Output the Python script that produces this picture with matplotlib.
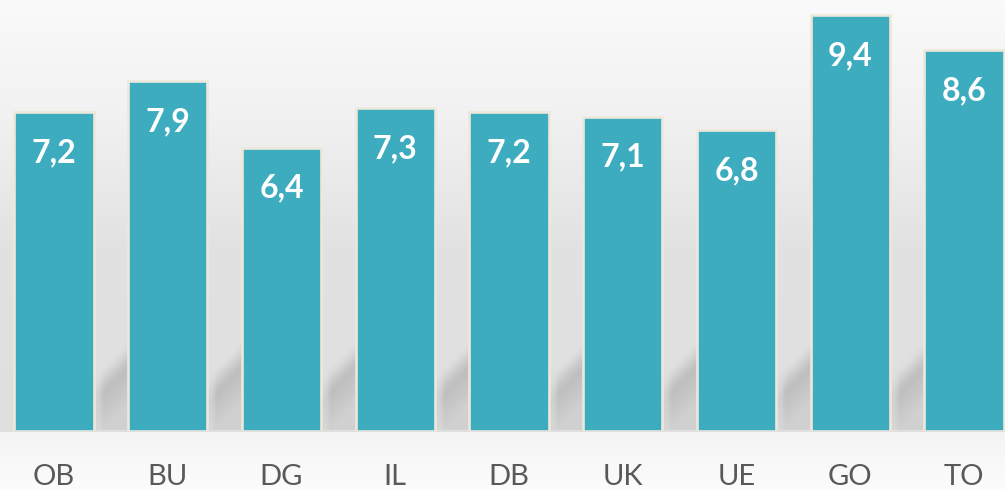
import numpy as np
import matplotlib
matplotlib.use('Agg')
import matplotlib.pyplot as plt

categories = ['OB', 'BU', 'DG', 'IL', 'DB', 'UK', 'UE', 'GO', 'TO']
values = [7.2, 7.9, 6.4, 7.3, 7.2, 7.1, 6.8, 9.4, 8.6]
value_labels = ['7,2', '7,9', '6,4', '7,3', '7,2', '7,1', '6,8', '9,4', '8,6']

W, H = 1005, 490
BASE_PX = 430.5          # pixel row of the baseline (from top)
PX_PER_UNIT_Y = 44.2
PX_PER_CAT = 113.75
FIRST_CENTER_PX = 54.0

plt.rcParams['font.family'] = ['Lato', 'DejaVu Sans']

fig = plt.figure(figsize=(W / 100, H / 100), dpi=100)

# ---- background gradient (wall + floor) ----
bg = fig.add_axes([0, 0, 1, 1], zorder=0)
bg.set_axis_off()
rows = np.arange(H)
wall_y = [0, 120, 250, 430]
wall_v = [0.98, 0.945, 0.885, 0.875]
vals = np.where(rows < 432,
                np.interp(rows, wall_y, wall_v),
                np.interp(rows, [432, 490], [0.955, 0.99]))
img = np.repeat(vals[:, None], 4, axis=1)
rgb = np.dstack([img, img, img])
bg.imshow(rgb, aspect='auto', extent=[0, 1, 0, 1], origin='upper')
bg.set_xlim(0, 1)
bg.set_ylim(0, 1)

# ---- main axes ----
ax = fig.add_axes([0, (H - BASE_PX) / H, 1, BASE_PX / H], zorder=1)
ax.set_facecolor('none')
x = np.arange(len(categories))
xlim = (-FIRST_CENTER_PX / PX_PER_CAT, (W - FIRST_CENTER_PX) / PX_PER_CAT)
ylim = (0, BASE_PX / PX_PER_UNIT_Y)

bars = ax.bar(x, values, width=0.696, color='#3EACBF', edgecolor='#EDE8DA',
              linewidth=1.9, zorder=3)

# ---- soft cast shadows behind the bars ----
dxu = 1 / PX_PER_CAT
dyu = 1 / PX_PER_UNIT_Y
for b in bars:
    xr = b.get_x() + b.get_width()
    x0, x1 = xr, xr + 36 * dxu
    y0, y1 = 0, 2.4
    gx = np.linspace(x0, x1, 60)
    gy = np.linspace(y0, y1, 160)
    GX, GY = np.meshgrid(gx, gy)
    yline = 50 * dyu + (GX - xr) / (30 * dxu) * 30 * dyu
    d = (yline - GY) / dyu  # pixels below the diagonal
    rise = np.clip((d + 5) / 30.0, 0, 1)
    rise = rise * rise * (3 - 2 * rise)
    fall = 1 - 0.55 * np.clip((d - 25) / 35.0, 0, 1)
    a = 0.24 * rise * fall
    a *= np.clip((GX - xr) / (10 * dxu), 0.45, 1)
    shade = np.zeros((len(gy), len(gx), 4))
    shade[..., :3] = 0.35
    shade[..., 3] = a
    ax.imshow(shade, extent=[x0, x1, y0, y1], origin='lower',
              aspect='auto', zorder=2, interpolation='bilinear')

ax.set_xlim(*xlim)
ax.set_ylim(*ylim)

for b, lab in zip(bars, value_labels):
    ax.annotate(lab, xy=(b.get_x() + b.get_width() / 2, b.get_height()),
                xytext=(0, -36), textcoords='offset points',
                ha='center', va='baseline', color='white',
                fontsize=23, fontweight='bold', zorder=4)

ax.set_xticks(x, categories)
ax.set_yticks([])
ax.tick_params(axis='x', length=0, pad=24, labelsize=21, labelcolor='#595959')
for s in ax.spines.values():
    s.set_visible(False)

fig.savefig('out.png', dpi=100)
